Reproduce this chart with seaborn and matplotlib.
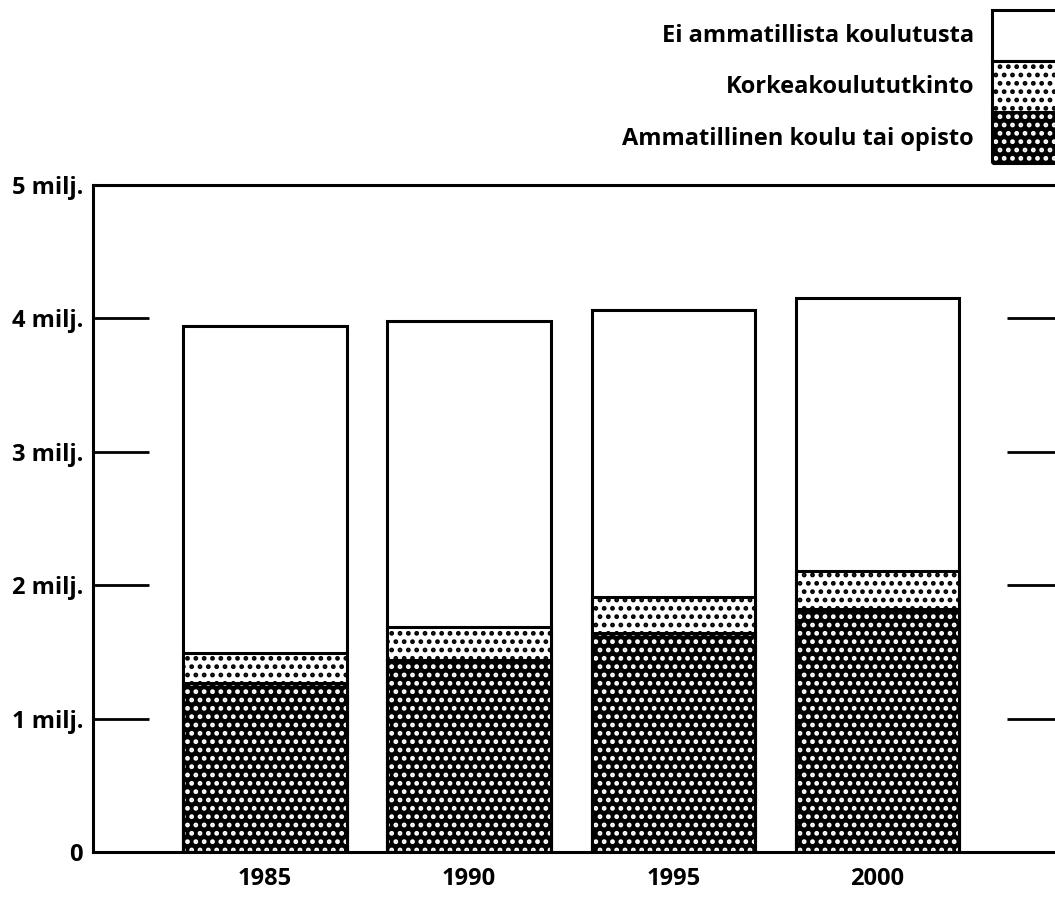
import matplotlib
matplotlib.use('Agg')
import matplotlib.pyplot as plt
import matplotlib.patches as mpatches
from matplotlib.legend_handler import HandlerTuple
import numpy as np
import seaborn as sns


# values in millions
years = ['1985', '1990', '1995', '2000']
ammatillinen = [1.27, 1.44, 1.64, 1.82]   # Ammatillinen koulu tai opisto
korkea = [0.22, 0.25, 0.27, 0.29]         # Korkeakoulututkinto
ei_ammatillista = [2.45, 2.29, 2.15, 2.04]  # Ei ammatillista koulutusta

y_ticks = [0, 1, 2, 3, 4, 5]
y_labels = ['0', '1 milj.', '2 milj.', '3 milj.', '4 milj.', '5 milj.']

label_ei = 'Ei ammatillista koulutusta'
label_korkea = 'Korkeakoulututkinto'
label_amm = 'Ammatillinen koulu tai opisto'


def main() -> None:
  sns.set_style('white')
  plt.rcParams['font.family'] = ['Open Sans', 'DejaVu Sans']
  plt.rcParams['font.weight'] = 'bold'
  plt.rcParams['text.color'] = 'black'
  plt.rcParams['hatch.linewidth'] = 2.2

  amm = np.array(ammatillinen)
  mid = amm + np.array(korkea)
  total = mid + np.array(ei_ammatillista)

  fs = 17
  fig = plt.figure(figsize=(10.55, 9.06), dpi=100)
  ax = fig.add_axes([0.088, 0.0596, 0.92, 0.7362])

  lw = 2.2
  # top layer: full totals, white
  sns.barplot(x=years, y=total, color='white', edgecolor='black', linewidth=lw,
              saturation=1, width=0.8, ax=ax)
  # middle: dotted
  sns.barplot(x=years, y=mid, color='white', edgecolor='black', linewidth=lw,
              hatch='..', saturation=1, width=0.8, ax=ax)
  # bottom: black with white dots
  sns.barplot(x=years, y=amm, color='black', edgecolor='white', linewidth=0,
              hatch='..', saturation=1, width=0.8, ax=ax)
  sns.barplot(x=years, y=amm, color='black', fill=False, linewidth=lw,
              width=0.8, ax=ax)

  ax.set_xlim(-0.843, 3.912)
  ax.set_ylim(0, 5)
  ax.set_yticks(y_ticks)
  ax.set_yticklabels(y_labels, fontsize=fs, fontweight='bold')
  for t in ax.get_xticklabels():
    t.set_fontsize(fs)
    t.set_fontweight('bold')
  ax.set_xlabel('')
  ax.set_ylabel('')
  ax.tick_params(axis='y', direction='in', length=40, width=2, right=True, left=True,
                 pad=7, colors='black')
  ax.tick_params(axis='x', length=0, pad=11, colors='black')
  for s in ax.spines.values():
    s.set_visible(True)
    s.set_color('black')
    s.set_linewidth(2.2)

  h_ei = mpatches.Patch(facecolor='white', edgecolor='black', linewidth=lw)
  h_ko = mpatches.Patch(facecolor='white', edgecolor='black', linewidth=lw, hatch='..')
  h_am = (mpatches.Patch(facecolor='black', edgecolor='white', linewidth=0, hatch='..'),
          mpatches.Patch(facecolor='none', edgecolor='black', linewidth=lw))
  fig.legend([h_ei, h_ko, h_am], [label_ei, label_korkea, label_amm],
             handler_map={tuple: HandlerTuple(ndivide=1)},
             loc='upper right', bbox_to_anchor=(1.016, 0.989),
             bbox_transform=fig.transFigure, frameon=False, markerfirst=False,
             fontsize=fs, handlelength=3.4, handleheight=2.95, labelspacing=0,
             handletextpad=0.75, borderpad=0, borderaxespad=0)

  fig.savefig('out.png', dpi=100)


if __name__ == '__main__':
  main()
